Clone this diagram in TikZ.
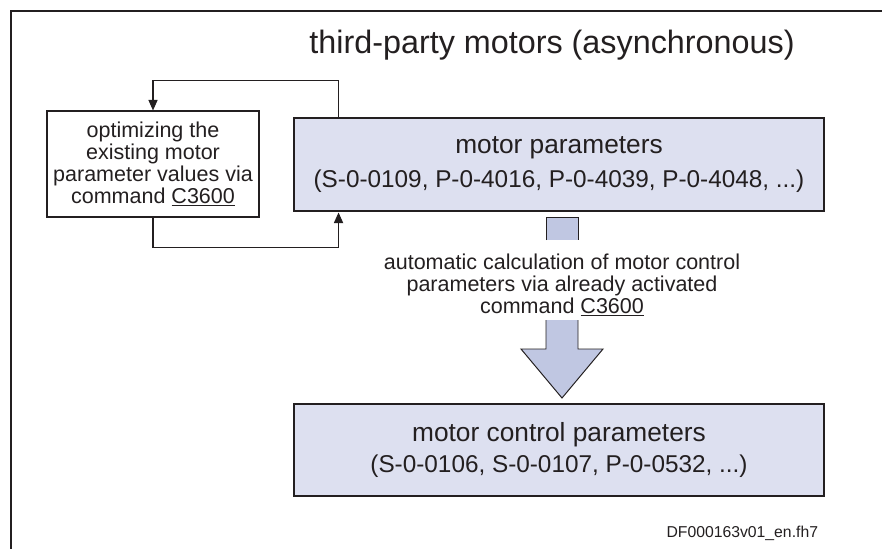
\documentclass[tikz,border=0pt]{standalone}
\usepackage{fontspec}
\setmainfont{Liberation Sans}
\usetikzlibrary{arrows.meta}
\definecolor{boxfill}{RGB}{221,224,240}
\definecolor{arrowfill}{RGB}{192,199,226}
\definecolor{ink}{RGB}{35,31,32}
\begin{document}
\begin{tikzpicture}[
  paramblock/.style={rectangle, draw=ink, fill=boxfill, line width=2.1pt,
    minimum width=13.25cm, minimum height=2.3cm, inner sep=0pt, align=center,
    font=\fontsize{18.7}{24}\selectfont},
  optbox/.style={rectangle, draw=ink, line width=0.8pt, minimum width=5.3cm,
    minimum height=2.65cm, inner sep=0pt, align=center,
    font=\fontsize{15.3}{15.6}\selectfont},
  loopline/.style={draw=ink, line width=0.8pt, -{Triangle[length=7.5pt,width=6.5pt]}},
  bigarrow/.style={draw=ink, fill=arrowfill, line width=0.7pt},
  every node/.style={text=ink}
]
  \useasboundingbox (0,0) rectangle (22.05,13.725);
  \draw[ink, line width=1.5pt] (22.05,13.45) -- (0.275,13.45) -- (0.275,0);

  \node[anchor=base, font=\fontsize{23}{27}\selectfont] (title) at (13.8,12.4)
    {third-party motors (asynchronous)};

  \node[optbox] (optim) at (3.825,9.625)
    {optimizing the\\existing motor\\parameter values via\\command \underline{C3600}};
  \node[paramblock, minimum height=2.325cm] (params) at (13.975,9.6125)
    {motor parameters\\{\fontsize{17.3}{24}\selectfont (S-0-0109, P-0-4016, P-0-4039, P-0-4048, ...)}};
  \node[paramblock, font=\fontsize{18.7}{22}\selectfont] (ctrl) at (13.975,2.475)
    {motor control parameters\\{\fontsize{17.3}{22}\selectfont (S-0-0106, S-0-0107, P-0-0532, ...)}};

  % feedback loop between the two upper boxes
  \draw[loopline] ([xshift=1.15cm]params.north west) -- ++(0,0.9) -| (optim.north);
  \draw[loopline] (optim.south) -- ++(0,-0.75) -| ([xshift=1.15cm]params.south west);

  % wide arrow, interrupted by its label
  \filldraw[bigarrow] (13.65,7.725) -- (13.65,8.3) -- (14.45,8.3) -- (14.45,7.725);
  \filldraw[bigarrow] (13.65,5.725) -- (13.65,5.0) -- (13.025,5.0) -- (14.05,3.775)
    -- (15.075,5.0) -- (14.45,5.0) -- (14.45,5.725);
  \node[align=center, font=\fontsize{15.3}{15.6}\selectfont] (calc) at (14.05,6.6)
    {automatic calculation of motor control\\parameters via already activated\\command \underline{C3600}};

  \node[anchor=base east, font=\fontsize{11.2}{13}\selectfont] (fname) at (20.575,0.3)
    {DF000163v01\_en.fh7};
\end{tikzpicture}
\end{document}
